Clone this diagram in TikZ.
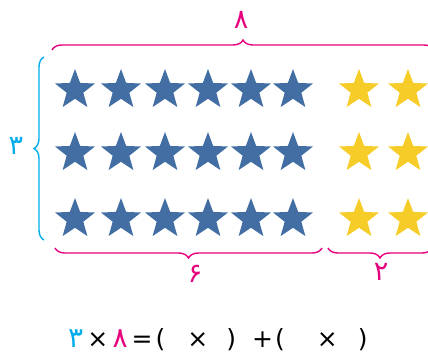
\documentclass[tikz,border=0pt]{standalone}
\usepackage{fontspec}
\usepackage{xcolor}
\usetikzlibrary{positioning,shapes.geometric,decorations.pathreplacing}
\newfontfamily\farsifont[Script=Arabic]{DejaVu Sans}
\newfontfamily\symfont{DejaVu Sans}
\definecolor{starblue}{RGB}{66,110,163}
\definecolor{staryellow}{RGB}{246,205,40}
\definecolor{magbrace}{RGB}{230,0,126}
\definecolor{cyanbrace}{RGB}{0,172,236}
\newcommand\fdigit[1]{{\farsifont #1}}

\begin{document}
\begin{tikzpicture}[
    x=1pt,y=-1pt,
    star5/.style={star,star points=5,star point ratio=2.4,minimum size=42pt,inner sep=0pt},
    bstar/.style={star5,fill=starblue},
    ystar/.style={star5,fill=staryellow},
    brc/.style={decorate,decoration={brace,amplitude=10pt},line width=1.4pt},
    numlbl/.style={font=\farsifont\fontsize{27}{27}\selectfont,inner sep=0pt}
]
\useasboundingbox (0,0) rectangle (428,357);

% stars: six blue and two yellow per row
\foreach \r/\y in {1/90,2/153,3/219}{
  \foreach \c/\x in {1/75,2/121,3/165,4/208,5/251,6/293}
    \node[bstar] (b\r\c) at (\x,\y) {};
  \node[ystar] (y\r1) at (359,\y) {};
  \node[ystar] (y\r2) at (408,\y) {};
}

% braces
\coordinate (topL) at (52,50);
\coordinate (topR) at (434,50);
\draw[brc,magbrace] (topL) -- (topR);
\node[numlbl,magbrace] (eight) at (241,20) {۸};

\coordinate (leftB) at (44,240);
\coordinate (leftT) at (44,57);
\draw[brc,cyanbrace] (leftB) -- (leftT);
\node[numlbl,cyanbrace] (three) at (16,146) {۳};

\coordinate (sixR) at (322,248);
\coordinate (sixL) at (55,248);
\draw[brc,magbrace] (sixR) -- (sixL);
\node[numlbl,magbrace] (six) at (195,274) {۶};

\coordinate (twoR) at (432,248);
\coordinate (twoL) at (328,248);
\draw[brc,magbrace] (twoR) -- (twoL);
\node[numlbl,magbrace] (two) at (381,272) {۲};

% equation
\node[font=\symfont\fontsize{25}{25}\selectfont,inner sep=0pt,anchor=west] (eq) at (68,340)
  {\fontsize{28}{28}\selectfont\textcolor{cyanbrace}{\fdigit{۳}}\fontsize{25}{25}\selectfont\,×\,\fontsize{28}{28}\selectfont\textcolor{magbrace}{\fdigit{۸}}\fontsize{25}{25}\selectfont\,=\hspace{3pt}(\hspace{22pt}×\hspace{18pt})\hspace{16pt}+\hspace{2pt}(\hspace{32pt}×\hspace{20pt})};
\end{tikzpicture}
\end{document}
